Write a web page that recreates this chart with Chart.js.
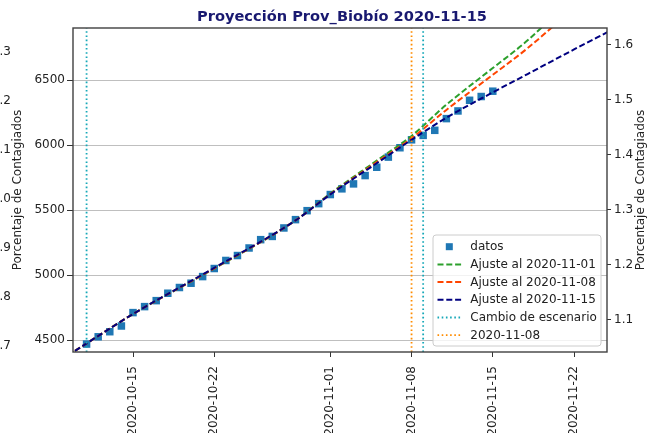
<!DOCTYPE html>
<html><head><meta charset="utf-8">
<script src="https://cdn.jsdelivr.net/npm/chart.js@4.4.1/dist/chart.umd.min.js"></script>
<style>html,body{margin:0;padding:0;background:#fff;overflow:hidden}canvas{display:block}</style>
</head><body>
<canvas id="c" width="648" height="433"></canvas>
<script>
const titulo = 'Proyección Prov_Biobío 2020-11-15';
const ejeTitulo = 'Porcentaje de Contagiados';

const fechasDatos = ['2020-10-11','2020-10-12','2020-10-13','2020-10-14','2020-10-15','2020-10-16','2020-10-17','2020-10-18','2020-10-19','2020-10-20','2020-10-21','2020-10-22','2020-10-23','2020-10-24','2020-10-25','2020-10-26','2020-10-27','2020-10-28','2020-10-29','2020-10-30','2020-10-31','2020-11-01','2020-11-02','2020-11-03','2020-11-04','2020-11-05','2020-11-06','2020-11-07','2020-11-08','2020-11-09','2020-11-10','2020-11-11','2020-11-12','2020-11-13','2020-11-14','2020-11-15'];
const casos = [4469,4525,4564,4608,4711,4757,4803,4860,4904,4937,4988,5050,5112,5150,5208,5272,5297,5362,5426,5495,5549,5619,5663,5701,5765,5829,5907,5979,6040,6074,6113,6203,6262,6344,6373,6414];

const fechasAjuste = ['2020-10-10','2020-10-15','2020-10-22','2020-10-29','2020-11-01','2020-11-05','2020-11-08','2020-11-11','2020-11-15','2020-11-18','2020-11-22','2020-11-25'];
const ajuste1101 = [4417,4700,5050,5420,5627,5880,6070,6310,6592,6805,7150,7430];
const ajuste1108 = [4417,4700,5052,5420,5622,5868,6052,6270,6540,6745,7055,7295];
const ajuste1115 = [4417,4700,5055,5420,5620,5860,6040,6210,6405,6546,6735,6873];

const fechasCambio = ['2020-10-11','2020-11-09'];
const fechaCorte = ['2020-11-08'];

const ticksFecha = ['2020-10-15','2020-10-22','2020-11-01','2020-11-08','2020-11-15','2020-11-22'];
const ticksIzq = [4500,5000,5500,6000,6500];
const ticksDer = [1.1,1.2,1.3,1.4,1.5,1.6];
const ticksFantasma = [0.7,0.8,0.9,1.0,1.1,1.2,1.3];
const limY = [4408, 6900];
const limY2 = [1.0418, 1.6309];
const limFantasma = [0.688, 1.349];
const limFechas = ['2020-10-10','2020-11-25'];

const DAY0 = Date.parse('2020-10-15');
const dia = s => (Date.parse(s) - DAY0) / 86400000;
const fmtFecha = v => new Date(DAY0 + Math.round(v) * 86400000).toISOString().slice(0,10);

const pares = (fs, vs) => fs.map((f,i) => ({x: dia(f), y: vs[i]}));
const verticales = fs => {
  const out = [];
  fs.forEach((f,i) => {
    if (i > 0) out.push({x: dia(f), y: null});
    out.push({x: dia(f), y: limY[0]}, {x: dia(f), y: limY[1]});
  });
  return out;
};

const DASH = [6, 2.8];
const DOT = [1.6, 2.6];
const FONT = '"DejaVu Sans", sans-serif';

const fixW = w => (s) => { s.width = w; };

const decor = {
  id: 'decor',
  afterDraw(chart) {
    const {ctx, chartArea: a, scales} = chart;
    ctx.save();
    ctx.strokeStyle = '#404040'; ctx.lineWidth = 1.4; ctx.setLineDash([]);
    ctx.strokeRect(a.left, a.top, a.right - a.left, a.bottom - a.top);
    ctx.fillStyle = '#191970'; ctx.font = 'bold 14.6px ' + FONT;
    ctx.textAlign = 'center'; ctx.textBaseline = 'middle';
    ctx.fillText(titulo, (a.left + a.right) / 2 + 2, a.top - 11);
    ctx.font = '12px ' + FONT; ctx.fillStyle = '#222';
    const cy = (a.top + a.bottom) / 2;
    [scales.y.left + 7, scales.y2.right - 7].forEach(x => {
      ctx.save(); ctx.translate(x, cy); ctx.rotate(-Math.PI / 2);
      ctx.fillText(ejeTitulo, 0, 0); ctx.restore();
    });
    // legend
    const W = 168, H = 111;
    const L = a.right - 6 - W, T = a.bottom - 6 - H;
    ctx.beginPath();
    ctx.roundRect(L, T, W, H, 3);
    ctx.fillStyle = 'rgba(255,255,255,0.8)'; ctx.fill();
    ctx.strokeStyle = '#cccccc'; ctx.lineWidth = 1; ctx.stroke();
    ctx.textAlign = 'left'; ctx.textBaseline = 'middle';
    chart.data.datasets.forEach((ds, i) => {
      const yy = T + 11.7 + i * 17.7;
      if (ds.showLine === false) {
        ctx.fillStyle = ds.backgroundColor;
        ctx.fillRect(L + 16.3 - 3.5, yy - 3.5, 7, 7);
      } else {
        ctx.beginPath(); ctx.setLineDash(ds.borderDash || []);
        ctx.strokeStyle = ds.borderColor; ctx.lineWidth = ds.borderWidth;
        ctx.moveTo(L + 4.5, yy); ctx.lineTo(L + 28.5, yy); ctx.stroke();
        ctx.setLineDash([]);
      }
      ctx.fillStyle = '#222'; ctx.font = '12px ' + FONT;
      ctx.fillText(ds.label, L + 37.3, yy + 0.5);
    });
    ctx.restore();
  }
};

new Chart(document.getElementById('c'), {
  type: 'line',
  data: {
    datasets: [
      {label: 'datos', data: pares(fechasDatos, casos), showLine: false, pointStyle: 'rect', xAxisID: 'x', yAxisID: 'y',
       pointRadius: 5.3, backgroundColor: '#1f77b4', borderColor: '#1f77b4', borderWidth: 0, order: 6},
      {label: 'Ajuste al 2020-11-01', data: pares(fechasAjuste, ajuste1101), borderColor: '#2ca02c', xAxisID: 'x', yAxisID: 'y',
       borderWidth: 2, borderDash: DASH, pointRadius: 0, cubicInterpolationMode: 'monotone', order: 5},
      {label: 'Ajuste al 2020-11-08', data: pares(fechasAjuste, ajuste1108), borderColor: '#ff4500', xAxisID: 'x', yAxisID: 'y',
       borderWidth: 2, borderDash: DASH, pointRadius: 0, cubicInterpolationMode: 'monotone', order: 4},
      {label: 'Ajuste al 2020-11-15', data: pares(fechasAjuste, ajuste1115), borderColor: '#000080', xAxisID: 'x', yAxisID: 'y',
       borderWidth: 2, borderDash: DASH, pointRadius: 0, cubicInterpolationMode: 'monotone', order: 3},
      {label: 'Cambio de escenario', data: verticales(fechasCambio), borderColor: '#17a8b8', xAxisID: 'x', yAxisID: 'y',
       borderWidth: 1.8, borderDash: DOT, pointRadius: 0, spanGaps: false, order: 2},
      {label: '2020-11-08', data: verticales(fechaCorte), borderColor: '#ff8c00', xAxisID: 'x', yAxisID: 'y',
       borderWidth: 1.8, borderDash: DOT, pointRadius: 0, order: 1}
    ]
  },
  options: {
    responsive: false, animation: false, events: [],
    layout: {padding: {top: 28, left: 0, right: 0, bottom: 0}},
    plugins: {legend: {display: false}, tooltip: {enabled: false}, title: {display: false}},
    scales: {
      x: {
        type: 'linear', position: 'bottom',
        min: dia(limFechas[0]) - 0.17, max: dia(limFechas[1]) - 0.16,
        afterBuildTicks: s => { s.ticks = ticksFecha.map(f => ({value: dia(f)})); },
        afterFit: s => { s.height = 81; },
        ticks: {autoSkip: false, minRotation: 90, maxRotation: 90, padding: 9,
                color: '#222', font: {family: FONT, size: 12},
                callback: v => fmtFecha(v)},
        grid: {drawOnChartArea: false, drawTicks: true, tickLength: 5, tickColor: '#333', tickWidth: 1},
        border: {display: false}
      },
      yg: {
        type: 'linear', position: 'left', weight: 10,
        min: limFantasma[0], max: limFantasma[1],
        afterBuildTicks: s => { s.ticks = ticksFantasma.map(v => ({value: v})); },
        afterFit: fixW(11),
        ticks: {padding: 0, color: '#222', font: {family: FONT, size: 12}, callback: v => v.toFixed(1)},
        grid: {display: false, drawTicks: false},
        border: {display: false}
      },
      y: {
        type: 'linear', position: 'left', weight: 1,
        min: limY[0], max: limY[1],
        afterBuildTicks: s => { s.ticks = ticksIzq.map(v => ({value: v})); },
        afterFit: fixW(62),
        ticks: {padding: 2, color: '#222', font: {family: FONT, size: 12}, callback: v => String(v)},
        grid: {color: '#b8b8b8', lineWidth: 0.9, drawTicks: true, tickLength: 6, tickColor: '#333', tickWidth: 1},
        border: {display: false}
      },
      y2: {
        type: 'linear', position: 'right',
        min: limY2[0], max: limY2[1],
        afterBuildTicks: s => { s.ticks = ticksDer.map(v => ({value: v})); },
        afterFit: fixW(41),
        ticks: {padding: 3, color: '#222', font: {family: FONT, size: 12}, callback: v => v.toFixed(1)},
        grid: {drawOnChartArea: false, drawTicks: true, tickLength: 4, tickColor: '#333', tickWidth: 1},
        border: {display: false}
      }
    }
  },
  plugins: [decor]
});
</script>
</body></html>
